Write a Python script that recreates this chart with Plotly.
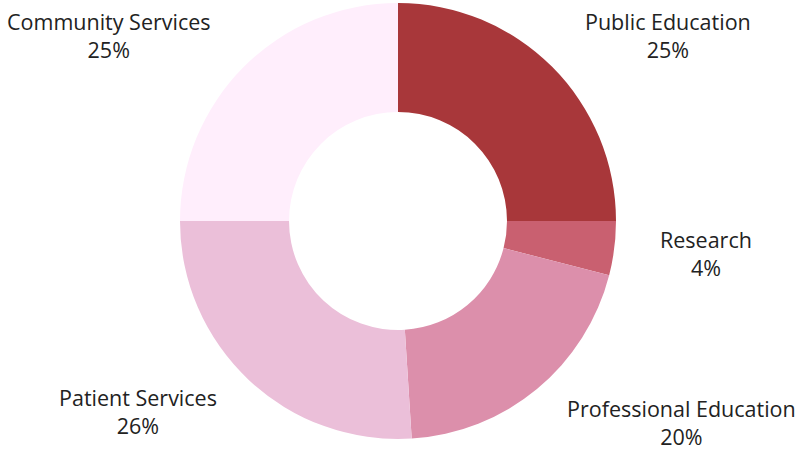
import math
import plotly.graph_objects as go

labels = ["Public Education", "Research", "Professional Education", "Patient Services", "Community Services"]
values = [25, 4, 20, 26, 25]
colors = ["#A8373A", "#C96070", "#DC8FAB", "#EBBFD9", "#FFEEFC"]

W, H = 799, 452
CX, CY, R = 398, 221, 218   # pie center / radius in px
LABEL_R = R + 44

fig = go.Figure(go.Pie(
    labels=labels,
    values=values,
    hole=0.5,
    sort=False,
    direction="clockwise",
    rotation=0,
    marker=dict(colors=colors, line=dict(width=0)),
    textinfo="none",
    hoverinfo="label+percent",
    showlegend=False,
    domain=dict(x=[(CX - R) / W, (CX + R) / W],
                y=[max(0, 1 - (CY + R) / H), min(1, 1 - (CY - R) / H)]),
))

total = sum(values)
cum = 0
for lab, v in zip(labels, values):
    mid = (cum + v / 2) / total * 2 * math.pi
    cum += v
    dx, dy = math.sin(mid), -math.cos(mid)
    px, py = CX + LABEL_R * dx, CY + LABEL_R * dy
    fig.add_annotation(
        x=px / W, y=1 - py / H, xref="paper", yref="paper",
        text=f"{lab}<br>{round(v / total * 100)}%",
        showarrow=False,
        xanchor="left" if dx >= 0 else "right",
        yanchor="middle", align="center",
        font=dict(family="Open Sans", size=21.5, color="#222222"),
    )

fig.update_layout(
    width=W, height=H,
    margin=dict(l=0, r=0, t=0, b=0),
    paper_bgcolor="white",
)
fig.write_html("out.html", config={"displayModeBar": False},
               post_script="document.body.style.margin='0px';")
